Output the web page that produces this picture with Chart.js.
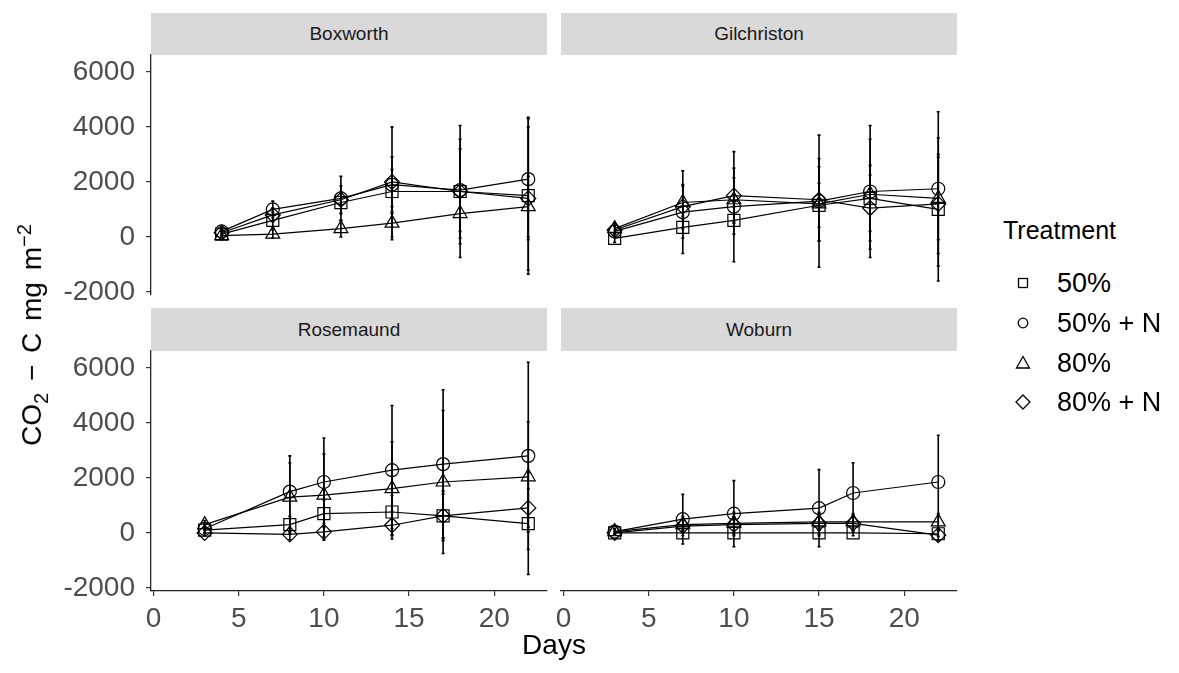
<!DOCTYPE html>
<html>
<head>
<meta charset="utf-8">
<script src="https://cdn.jsdelivr.net/npm/chart.js@4.4.0/dist/chart.umd.min.js"></script>
<style>
  body { margin: 0; background: #fff; width: 1179px; height: 673px; position: relative; overflow: hidden;
         font-family: "Liberation Sans", Arial, sans-serif; }
  canvas { position: absolute; }
  .strip { position: absolute; background: #d9d9d9; color: #1a1a1a; font-size: 19px;
           display: flex; align-items: center; justify-content: center; }
  .ytitle { position: absolute; left: 33px; top: 335px; transform: translate(-50%, -50%) rotate(-90deg);
            font-size: 28px; white-space: nowrap; color: #000; word-spacing: 4px; }
  .ytitle sub, .ytitle sup { font-size: 20px; }
  .xtitle { position: absolute; left: 554px; top: 631px; transform: translateX(-50%); font-size: 28px; line-height: 1; }
  .legend { position: absolute; left: 1003px; top: 218px; }
  .legend .title { font-size: 25px; line-height: 1; margin-bottom: 0; }
  .legend .row { position: absolute; left: 0; height: 28px; display: flex; align-items: center; font-size: 27px; line-height: 1; white-space: nowrap; }
  .legend svg { width: 40px; height: 28px; margin-right: 14px; }
</style>
</head>
<body>
<canvas id="p_boxworth" width="563" height="272" style="left:0px;top:39px"></canvas>
<canvas id="p_gilchriston" width="428" height="272" style="left:545px;top:39px"></canvas>
<canvas id="p_rosemaund" width="563" height="306" style="left:0px;top:335px"></canvas>
<canvas id="p_woburn" width="428" height="306" style="left:545px;top:335px"></canvas>

<div class="strip" style="left:151px;top:13px;width:396px;height:42px">Boxworth</div>
<div class="strip" style="left:561px;top:13px;width:396px;height:42px">Gilchriston</div>
<div class="strip" style="left:151px;top:308px;width:396px;height:43px">Rosemaund</div>
<div class="strip" style="left:561px;top:308px;width:396px;height:43px">Woburn</div>

<div class="ytitle">CO<sub>2</sub> − C mg m<sup>−2</sup></div>
<div class="xtitle">Days</div>
<div class="legend" id="legend"><div class="title">Treatment</div></div>

<script>
// Dados:
const sites = ['Boxworth', 'Gilchriston', 'Rosemaund', 'Woburn'];
const treatments = ['50%', '50% + N', '80%', '80% + N'];
const yTickVals = [-2000, 0, 2000, 4000, 6000];
const xTickVals = [0, 5, 10, 15, 20];

// linhas: 50%, 50% + N, 80%, 80% + N
const boxworthDays = [4, 7, 11, 14, 18, 22];
const boxworthMean = [
  [100, 600, 1250, 1650, 1650, 1500],
  [200, 1000, 1400, 1900, 1700, 2100],
  [50, 100, 300, 500, 850, 1100],
  [150, 800, 1350, 2000, 1650, 1400]
];
const boxworthErr = [
  [100, 300, 400, 800, 1900, 2850],
  [150, 300, 800, 1000, 1500, 2200],
  [80, 150, 300, 600, 900, 1100],
  [100, 250, 500, 2000, 2400, 2600]
];

const gilchristonDays = [3, 7, 10, 15, 18, 22];
const gilchristonMean = [
  [-50, 350, 600, 1150, 1400, 1000],
  [200, 900, 1100, 1300, 1650, 1750],
  [300, 1250, 1350, 1200, 1550, 1400],
  [250, 1100, 1500, 1350, 1050, 1200]
];
const gilchristonErr = [
  [150, 400, 500, 800, 1200, 2600],
  [200, 1500, 2000, 2400, 2400, 2800],
  [200, 600, 800, 1350, 2000, 1500],
  [150, 800, 1000, 1500, 1200, 1800]
];

const rosemaundDays = [3, 8, 10, 14, 17, 22];
const rosemaundMean = [
  [100, 300, 700, 760, 620, 340],
  [150, 1500, 1850, 2280, 2500, 2800],
  [300, 1300, 1370, 1610, 1850, 2040],
  [0, -50, 40, 280, 620, 910]
];
const rosemaundErr = [
  [100, 300, 500, 600, 800, 1850],
  [150, 1300, 1600, 2350, 2700, 3400],
  [150, 1250, 1500, 1700, 2600, 2000],
  [100, 200, 300, 500, 900, 700]
];

const woburnDays = [3, 7, 10, 15, 17, 22];
const woburnMean = [
  [0, 0, 0, 0, 0, -30],
  [50, 500, 700, 900, 1450, 1850],
  [50, 300, 350, 400, 400, 400],
  [0, 250, 300, 350, 350, -80]
];
const woburnErr = [
  [50, 100, 100, 100, 100, 100],
  [100, 900, 1200, 1400, 1100, 1700],
  [80, 300, 400, 300, 300, 300],
  [50, 200, 300, 400, 300, 200]
];

const pointShapes = ['rect', 'circle', 'triangle', 'rectRot'];
const pointSizes = [8.5, 6.5, 8, 7.5];
const preto = '#000';
const cinzaTexto = '#4d4d4d';

Chart.defaults.font.family = '"Liberation Sans", Arial, sans-serif';

// Barras de erro (media +/- erro), desenhadas pela escala y
const errorBars = {
  id: 'errorBars',
  beforeDatasetsDraw(chart) {
    const ctx = chart.ctx;
    const sy = chart.scales.y;
    ctx.save();
    ctx.strokeStyle = preto;
    ctx.lineWidth = 1.6;
    chart.data.datasets.forEach((ds, k) => {
      chart.getDatasetMeta(k).data.forEach((pt, i) => {
        const v = ds.data[i].y, e = ds.errs[i];
        const top = sy.getPixelForValue(v + e);
        const bot = sy.getPixelForValue(v - e);
        ctx.beginPath();
        ctx.moveTo(pt.x, top); ctx.lineTo(pt.x, bot);
        ctx.moveTo(pt.x - 1.5, top); ctx.lineTo(pt.x + 1.5, top);
        ctx.moveTo(pt.x - 1.5, bot); ctx.lineTo(pt.x + 1.5, bot);
        ctx.stroke();
      });
    });
    ctx.restore();
  }
};

function criarPainel(id, days, mean, err, showY, showX) {
  const c = document.getElementById(id).getContext('2d');
  return new Chart(c, {
    type: 'line',
    data: {
      datasets: treatments.map((t, k) => ({
        label: t,
        data: days.map((d, i) => ({ x: d, y: mean[k][i] })),
        errs: err[k],
        borderColor: preto,
        borderWidth: 1.2,
        pointStyle: pointShapes[k],
        pointRadius: pointSizes[k],
        pointBorderColor: preto,
        pointBackgroundColor: 'rgba(0,0,0,0)',
        pointBorderWidth: 1.2,
        tension: 0,
        fill: false
      }))
    },
    options: {
      responsive: false,
      animation: false,
      events: [],
      layout: { padding: { left: showY ? 0 : 16, right: 16, top: 16, bottom: showX ? 0 : 16 } },
      plugins: { legend: { display: false }, tooltip: { enabled: false } },
      scales: {
        x: {
          type: 'linear', min: -0.15, max: 23.1, display: showX,
          border: { display: true, color: '#222', width: 1.3 },
          grid: { display: true, drawOnChartArea: false, drawTicks: true, tickLength: 5, color: '#333', lineWidth: 1.2 },
          ticks: { autoSkip: false, maxRotation: 0, padding: 6, color: cinzaTexto, font: { size: 28 },
                   callback: v => String(v) },
          afterBuildTicks: s => { s.ticks = xTickVals.map(v => ({ value: v })); },
          afterFit: s => { s.height = showX ? 50 : 0; s.paddingLeft = 0; s.paddingRight = 0; }
        },
        y: {
          min: -2110, max: 6610, display: showY,
          border: { display: true, color: '#222', width: 1.3 },
          grid: { display: true, drawOnChartArea: false, drawTicks: true, tickLength: 5, color: '#333', lineWidth: 1.2 },
          ticks: { padding: 11, color: cinzaTexto, font: { size: 28 }, callback: v => String(v) },
          afterBuildTicks: s => { s.ticks = yTickVals.map(v => ({ value: v })); },
          afterFit: s => { s.width = showY ? 151 : 0; s.paddingTop = 0; s.paddingBottom = 0; }
        }
      }
    },
    plugins: [errorBars]
  });
}

criarPainel('p_boxworth', boxworthDays, boxworthMean, boxworthErr, true, false);
criarPainel('p_gilchriston', gilchristonDays, gilchristonMean, gilchristonErr, false, false);
criarPainel('p_rosemaund', rosemaundDays, rosemaundMean, rosemaundErr, true, true);
criarPainel('p_woburn', woburnDays, woburnMean, woburnErr, false, true);

// Legenda:
const legendRows = [65, 105, 145, 184]; // deslocamento de cada linha a partir do topo da legenda
const shapesSvg = [
  '<rect x="15.5" y="9.5" width="9" height="9" fill="none" stroke="#000" stroke-width="1.3"/>',
  '<circle cx="20" cy="14" r="4.8" fill="none" stroke="#000" stroke-width="1.3"/>',
  '<polygon points="20,7.5 26.5,19 13.5,19" fill="none" stroke="#000" stroke-width="1.3"/>',
  '<polygon points="20,7 27,14 20,21 13,14" fill="none" stroke="#000" stroke-width="1.3"/>'
];
const leg = document.getElementById('legend');
treatments.forEach((t, k) => {
  const row = document.createElement('div');
  row.className = 'row';
  row.style.top = legendRows[k] - 14 + 'px';
  row.innerHTML = '<svg viewBox="0 0 40 28">' + shapesSvg[k] + '</svg><span>' + t + '</span>';
  leg.appendChild(row);
});
</script>
</body>
</html>
